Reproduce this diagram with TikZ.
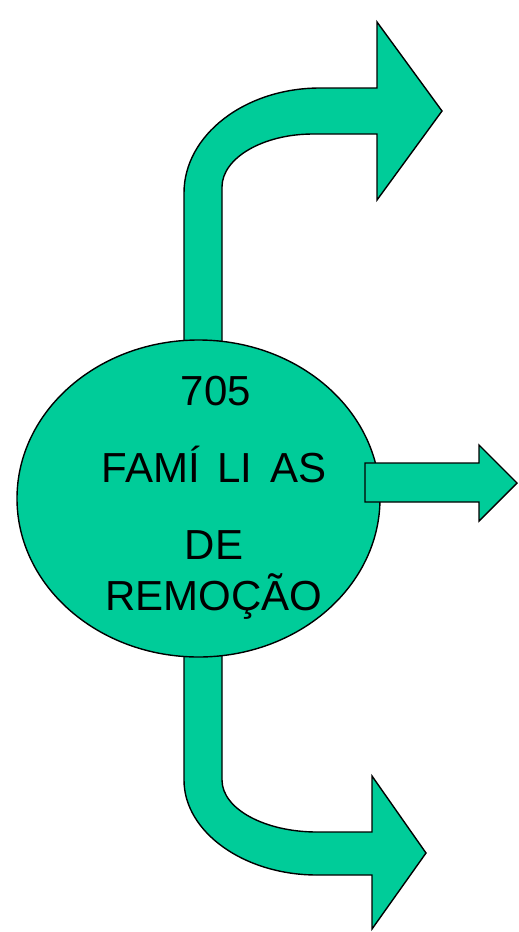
\documentclass[tikz,border=0pt]{standalone}
\usepackage{fontspec}
\setmainfont{Liberation Sans}
\usetikzlibrary{shapes}
\definecolor{remgreen}{RGB}{0,204,153}

\begin{document}
\begin{tikzpicture}[x=1pt,y=-1pt]
                \tikzset{blockarrow/.style={draw=black, fill=remgreen, line width=1.4pt, line join=miter},
                         famtext/.style={anchor=base, inner sep=0pt, font=\fontsize{42}{50}\selectfont}}
                \useasboundingbox (0,0) rectangle (519,932);
                % upper bent arrow
                \draw [blockarrow] (184,350) -- (184,193) .. controls (184,135) and (245,88) .. (320,88)
                      -- (377,88) -- (377,22) -- (442,111) -- (377,200) -- (377,134) -- (313,134)
                      .. controls (263,134) and (222,158) .. (222,187) -- (222,350) -- cycle;
                % lower bent arrow
                \draw [blockarrow] (184,650) -- (184,780) .. controls (184,832) and (244,875) .. (317,875)
                      -- (372,875) -- (372,929) -- (426,853) -- (372,776) -- (372,832) -- (317,832)
                      .. controls (265,832) and (222,809) .. (222,780) -- (222,650) -- cycle;
                % circle
                \node [ellipse, blockarrow, minimum width=363pt, minimum height=317pt, inner sep=0pt] (familias) at (198.5,498.5) {};
                % middle arrow
                \draw [blockarrow] (365,463) -- (479,463) -- (479,445) -- (517,483) -- (479,521) -- (479,502) -- (365,502) -- cycle;
                % texts
                \node [famtext] (num) at (216,405) {705};
                \node [famtext] (fam) at (214,482) {FAMÍ\hspace{0.42em}LI\hspace{0.42em}AS};
                \node [famtext] (de) at (214,559) {DE};
                \node [famtext] (remo) at (214,610) {REMOÇÃO};
            \end{tikzpicture}
\end{document}
